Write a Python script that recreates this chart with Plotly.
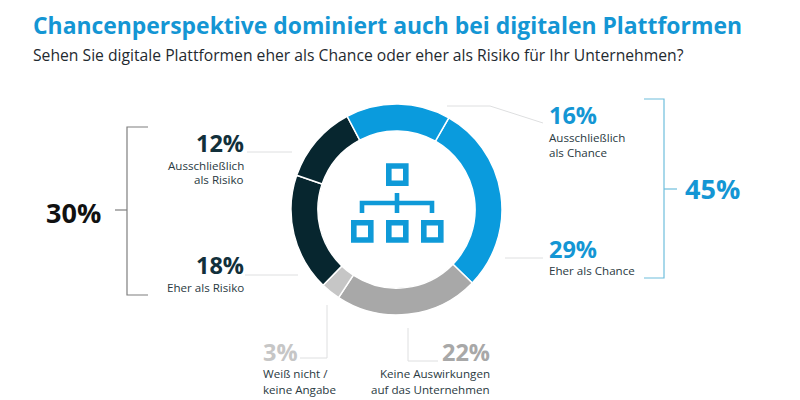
import plotly.graph_objects as go

categories = ["Eher als Chance", "Keine Auswirkungen auf das Unternehmen", "Weiß nicht / keine Angabe",
              "Eher als Risiko", "Ausschließlich als Risiko", "Ausschließlich als Chance"]
values = [29, 22, 3, 18, 12, 16]
colors = ["#0A9BDD", "#A8A8A8", "#C6C6C6", "#07262F", "#07262F", "#0A9BDD"]
title = "Chancenperspektive dominiert auch bei digitalen Plattformen"
subtitle = "Sehen Sie digitale Plattformen eher als Chance oder eher als Risiko für Ihr Unternehmen?"

W, H = 800, 400
BLUE = "#1496D4"
DARK = "#12303B"
FONT = "Open Sans"
BODY = "#2A3A42"
SMALL = 11.6
PCT = 23.5
BIG = 27

def px(x): return x / W
def py(y): return 1 - y / H

fig = go.Figure(go.Pie(
    labels=categories, values=values, sort=False, direction="clockwise", rotation=29.7,
    hole=0.745, textinfo="none", hoverinfo="label+percent",
    marker=dict(colors=colors, line=dict(color="white", width=1.5)),
    domain=dict(x=[px(291), px(502)], y=[py(315), py(104)]),
    showlegend=False,
))

shapes = []
def line(pts, color, width=1.0):
    path = "M " + " L ".join(f"{px(a):.5f},{py(b):.5f}" for a, b in pts)
    shapes.append(dict(type="path", xref="paper", yref="paper", path=path,
                       line=dict(color=color, width=width)))

def rect(x0, y0, x1, y1, color, width):
    shapes.append(dict(type="rect", xref="paper", yref="paper",
                       x0=px(x0), x1=px(x1), y0=py(y0), y1=py(y1),
                       line=dict(color=color, width=width)))

# brackets
line([(148, 127), (127, 127), (127, 295), (148, 295)], "#7F7F7F", 1.2)
line([(115, 210), (127, 210)], "#7F7F7F", 1.2)
line([(644, 99), (664, 99), (664, 278), (644, 278)], "#6FBEDC", 1.2)
line([(664, 189), (677, 189)], "#6FBEDC", 1.2)

# leader lines
LEAD = "#DEDFE0"
line([(247, 152), (292, 152)], LEAD)
line([(245, 275), (298, 275)], LEAD)
line([(447, 106), (490, 106), (543, 123)], LEAD)
line([(505, 258), (543, 258)], LEAD)
line([(327, 305), (327, 358), (300, 358)], LEAD)
line([(408, 328), (408, 361), (438, 361)], LEAD)

# centre icon
ICON = "#0F9AD8"
rect(388.8, 166, 405.8, 183.2, ICON, 5.6)
for x0 in (353.8, 388.8, 423.8):
    rect(x0, 222.8, x0 + 17, 240, ICON, 5.6)
line([(362, 213), (362, 203), (432, 203), (432, 213)], ICON, 4.6)
line([(397, 193), (397, 213)], ICON, 4.6)

annotations = []
def text(x, y, s, size, color, anchor, bold=False):
    annotations.append(dict(
        xref="paper", yref="paper", x=px(x), y=py(y), text=f"<b>{s}</b>" if bold else s,
        showarrow=False, xanchor=anchor, yanchor="middle", xshift=0,
        font=dict(family=FONT, size=size, color=color), borderpad=0, borderwidth=0,
    ))

text(33, 26, title, 22.9, BLUE, "left", True)
text(33, 55, subtitle, 15.7, "#1F2A30", "left")

text(244, 143, f"{values[4]}%", PCT, DARK, "right", True)
text(244, 165, "Ausschließlich", SMALL, BODY, "right")
text(244, 180, "als Risiko", SMALL, BODY, "right")
text(244, 265, f"{values[3]}%", PCT, DARK, "right", True)
text(244, 287, "Eher als Risiko", SMALL, BODY, "right")
text(46, 212, f"{values[3] + values[4]}%", BIG, "#111111", "left", True)

text(549, 115, f"{values[5]}%", PCT, BLUE, "left", True)
text(549, 137, "Ausschließlich", SMALL, BODY, "left")
text(549, 152, "als Chance", SMALL, BODY, "left")
text(549, 248.5, f"{values[0]}%", PCT, BLUE, "left", True)
text(549, 270.5, "Eher als Chance", SMALL, BODY, "left")
text(685, 189, f"{values[0] + values[5]}%", BIG, BLUE, "left", True)

text(263, 351.5, f"{values[2]}%", PCT, "#C6C6C6", "left", True)
text(263, 373.5, "Weiß nicht /", SMALL, BODY, "left")
text(263, 389, "keine Angabe", SMALL, BODY, "left")
text(490, 351.5, f"{values[1]}%", PCT, "#A8A8A8", "right", True)
text(490, 373.5, "Keine Auswirkungen", SMALL, BODY, "right")
text(490, 389, "auf das Unternehmen", SMALL, BODY, "right")

fig.update_layout(
    width=W, height=H, margin=dict(l=0, r=0, t=0, b=0),
    paper_bgcolor="white", plot_bgcolor="white",
    shapes=shapes, annotations=annotations,
)
fig.write_html("out.html", config=dict(displayModeBar=False),
               post_script="document.body.style.margin='0';document.body.style.overflow='hidden';")
